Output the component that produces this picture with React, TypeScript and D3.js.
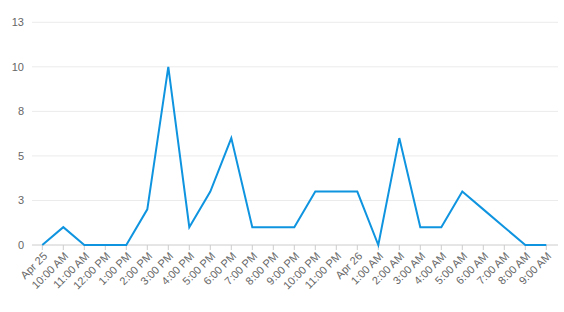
import React from "react";
import * as d3 from "d3";

const categories = [
  "Apr 25", "10:00 AM", "11:00 AM", "12:00 PM", "1:00 PM", "2:00 PM", "3:00 PM",
  "4:00 PM", "5:00 PM", "6:00 PM", "7:00 PM", "8:00 PM", "9:00 PM", "10:00 PM",
  "11:00 PM", "Apr 26", "1:00 AM", "2:00 AM", "3:00 AM", "4:00 AM", "5:00 AM",
  "6:00 AM", "7:00 AM", "8:00 AM", "9:00 AM",
];
const values = [0, 1, 0, 0, 0, 2, 10, 1, 3, 6, 1, 1, 1, 3, 3, 3, 0, 6, 1, 1, 3, 2, 1, 0, 0];
const yTicks = [0, 2.5, 5, 7.5, 10, 12.5];

const W = 564;
const H = 312;
const left = 32;
const right = 558;
const top = 22.3;
const bottom = 245;
const font = "'Liberation Sans', Arial, sans-serif";

export default function App() {
  const x = d3
    .scalePoint<string>()
    .domain(categories)
    .range([42.3, 546.3]);
  const y = d3.scaleLinear().domain([0, 12.5]).range([bottom, top]);
  const line = d3
    .line<number>()
    .x((_, i) => x(categories[i]) as number)
    .y((d) => y(d));

  return (
    <svg
      width={W}
      height={H}
      style={{ position: "absolute", left: 0, top: 0, background: "#fff" }}
    >
      {yTicks.map((t) => (
        <g key={t}>
          {t !== 0 && (
            <line x1={left} x2={right} y1={y(t)} y2={y(t)} stroke="#ebebeb" strokeWidth={1} />
          )}
          <text
            x={24}
            y={y(t)}
            dy="0.35em"
            textAnchor="end"
            fontFamily={font}
            fontSize={11}
            fill="#666"
          >
            {Math.round(t)}
          </text>
        </g>
      ))}
      <line x1={left} x2={right} y1={bottom} y2={bottom} stroke="#ccc" strokeWidth={1} />
      {categories.map((c) => {
        const cx = x(c) as number;
        return (
          <g key={c}>
            <line x1={cx} x2={cx} y1={bottom} y2={bottom + 5} stroke="#ccc" strokeWidth={1} />
            <text
              transform={`translate(${cx + 3},${bottom + 9}) rotate(-45)`}
              textAnchor="end"
              dy="0.35em"
              fontFamily={font}
              fontSize={11}
              fill="#666"
            >
              {c}
            </text>
          </g>
        );
      })}
      <path d={line(values) ?? ""} fill="none" stroke="#0f94e0" strokeWidth={2} strokeLinejoin="miter" />
    </svg>
  );
}
